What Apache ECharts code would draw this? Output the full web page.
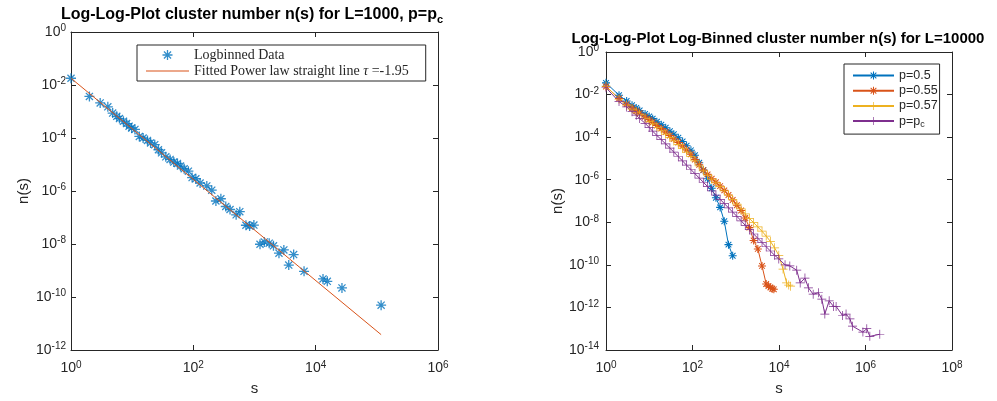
<!DOCTYPE html>
<html><head><meta charset="utf-8">
<script src="https://cdn.jsdelivr.net/npm/echarts@6/dist/echarts.min.js"></script>
<style>html,body{margin:0;padding:0;background:#fff}#c{width:997px;height:401px}</style>
</head><body><div id="c"></div>
<script>
// ---------- Left chart data (L=1000, p=pc) ----------
const leftS = [1,2,3,4,4.8,5.6,6.2,7.2,8.1,8.9,9.8,11.1,13.1,15.1,17.8,20,23.4,26.9,30.2,35.5,41.7,47.9,55,61.7,70.8,83,95.5,110,129,166,200,234,282,339,398,501,575,724,832,977,1230,1445,1738,2042,2512,3020,3631,4365,6457,13183,15488,26915,117490];
const leftN = [1.8e-2,3.7e-3,2.1e-3,1.5e-3,8.7e-4,6.6e-4,5.4e-4,4.3e-4,3.5e-4,2.8e-4,2.4e-4,2.1e-4,1.15e-4,1.0e-4,8.1e-5,6.5e-5,5.6e-5,3.6e-5,2.75e-5,1.95e-5,1.55e-5,1.23e-5,1.1e-5,8.7e-6,6.9e-6,5.6e-6,3.2e-6,2.9e-6,2.0e-6,1.55e-6,1.07e-6,4.2e-7,5.1e-7,2.6e-7,2.0e-7,1.26e-7,1.66e-7,5.1e-8,4.8e-8,5.2e-8,9.8e-9,1.2e-8,1.07e-8,8.5e-9,4.5e-9,6.0e-9,1.6e-9,4.0e-9,9.3e-10,4.8e-10,3.9e-10,2.2e-10,4.9e-11];
const fitS = [1, 117490];
const fitN = [1.8e-2, 3.8e-12];

// ---------- Right chart data (L=10000) ----------
const p05S = [1,2,3,4,5,6,8,10,12,15,19,24,30,37,47,59,73,92,114,143,178,223,278,348,435,543,679,849];
const p05N = [3.55e-2,9.33e-3,5.01e-3,3.16e-3,2.34e-3,1.78e-3,1.23e-3,9.33e-4,7.41e-4,5.25e-4,3.80e-4,2.75e-4,1.91e-4,1.38e-4,9.33e-5,6.31e-5,3.98e-5,2.40e-5,1.41e-5,6.31e-6,2.82e-6,1.12e-6,3.98e-7,1.41e-7,5.01e-8,1.12e-8,8.91e-10,2.69e-10];
const p055S = [1,2,3,4,5,6,8,10,12,15,19,24,30,37,47,59,73,92,114,143,178,223,278,348,435,543,679,849,1060,1330,1660,2070,2590,3240,4050,5060,5700,6300,7000,7600];
const p055N = [2.40e-2,6.61e-3,3.55e-3,2.34e-3,1.70e-3,1.32e-3,8.91e-4,6.61e-4,5.01e-4,3.55e-4,2.51e-4,1.74e-4,1.20e-4,8.32e-5,5.62e-5,3.80e-5,2.51e-5,1.58e-5,8.91e-6,5.01e-6,2.82e-6,1.78e-6,1.12e-6,7.59e-7,5.01e-7,3.16e-7,1.91e-7,1.12e-7,6.31e-8,3.55e-8,1.58e-8,5.62e-9,1.41e-9,5.62e-10,8.91e-11,1.26e-11,1.0e-11,8.71e-12,7.59e-12,7.08e-12];
const p057S = [1,2,3,4,5,6,8,10,12,15,19,24,30,37,47,59,73,92,114,143,178,223,278,348,435,543,679,849,1060,1330,1660,2070,2590,3240,4050,5060,6330,7910,9890,12400,15000,16800,18500];
const p057N = [2.51e-2,6.03e-3,3.16e-3,2.09e-3,1.51e-3,1.15e-3,7.59e-4,5.50e-4,4.17e-4,2.88e-4,2.00e-4,1.38e-4,9.55e-5,6.61e-5,4.47e-5,3.02e-5,2.00e-5,1.26e-5,7.59e-6,4.47e-6,2.63e-6,1.66e-6,1.07e-6,7.08e-7,4.68e-7,3.02e-7,1.91e-7,1.17e-7,7.08e-8,4.27e-8,2.51e-8,1.51e-8,9.55e-9,6.03e-9,3.80e-9,2.24e-9,1.26e-9,6.31e-10,2.82e-10,6.31e-11,1.41e-11,1.12e-11,1.0e-11];
const pcS = [1,2,3,4,5,6,8,10,12,15,19,24,30,37,47,59,73,92,114,143,178,223,278,348,435,543,679,849,1060,1330,1660,2070,2590,3240,4050,5060,6330,7910,9890,13800,17800,25700,30900,39800,47900,61700,81300,97700,114800,144500,182000,209000,295000,355000,437000,501000,871000,1070000,1260000,2140000];
const pcN = [2.09e-2,4.68e-3,2.63e-3,1.58e-3,1.07e-3,7.59e-4,4.47e-4,2.82e-4,1.91e-4,1.20e-4,7.59e-5,4.79e-5,3.02e-5,2.00e-5,1.20e-5,7.59e-6,4.79e-6,3.02e-6,1.91e-6,1.20e-6,7.59e-7,4.79e-7,3.02e-7,1.91e-7,1.20e-7,7.59e-8,4.79e-8,3.02e-8,1.91e-8,1.17e-8,7.24e-9,4.47e-9,2.82e-9,1.78e-9,1.12e-9,7.08e-10,4.47e-10,2.82e-10,1.91e-10,1.0e-10,8.91e-11,5.62e-11,1.41e-11,2.40e-11,8.32e-12,4.17e-12,4.90e-12,2.45e-12,4.90e-13,2.04e-12,1.12e-12,1.12e-12,4.17e-13,4.90e-13,2.88e-13,1.32e-13,6.92e-14,1.0e-13,4.37e-14,5.50e-14];

// ---------- Axis ranges / tick labels (exponents of 10) ----------
const leftXTicks = [0,2,4,6];
const leftYTicks = [-12,-10,-8,-6,-4,-2,0];
const rightXTicks = [0,2,4,6,8];
const rightYTicks = [-14,-12,-10,-8,-6,-4,-2,0];

const seriesNames = ['p=0.5','p=0.55','p=0.57','p=pc'];
const fitName = 'Fitted Power law straight line \u03c4 =-1.95';

const F = '"Liberation Sans", Arial, Helvetica, sans-serif';
const SERIF = '"Liberation Serif", "DejaVu Serif", serif';
const AX = '#262626';
const C = ['#0072BD','#D95319','#EDB120','#7E2F8E'];
const STAR = 'path://M8.7 0h2.6v20h-2.6z M0 8.7h20v2.6h-20z M2 3.8L3.8 2L18 16.2L16.2 18Z M16.2 2L18 3.8L3.8 18L2 16.2Z';
const PLUS = 'path://M9.2 0h1.6v20h-1.6z M0 9.2h20v1.6h-20z';
const HLINE = 'path://M0 0h40v1h-40z';

const pairs = (xs, ys) => xs.map((x, i) => [x, ys[i]]);
const expRich = {
  b: {fontSize: 14, fontFamily: F, color: AX},
  e: {fontSize: 10, fontFamily: F, color: AX, padding: [0, 0, 7, 0]}
};
const fmt = v => '{b|10}{e|' + Math.round(Math.log10(v)) + '}';

function axes(xmin, xmax, ymin, ymax, xLabelMargin, yLabelMargin, xNameGap, yNameGap) {
  const common = {
    type: 'log', logBase: 100,
    axisLine: {show: true, lineStyle: {color: AX, width: 1}},
    axisTick: {show: true, inside: true, length: 5, lineStyle: {color: AX}},
    splitLine: {show: false}, minorTick: {show: false}
  };
  const x = [
    Object.assign({}, common, {min: xmin, max: xmax, position: 'bottom',
      axisLabel: {formatter: fmt, rich: expRich, margin: xLabelMargin},
      name: 's', nameLocation: 'middle', nameGap: xNameGap,
      nameTextStyle: {fontFamily: F, fontSize: 15, color: AX}}),
    Object.assign({}, common, {min: xmin, max: xmax, position: 'top', axisLabel: {show: false}})
  ];
  const y = [
    Object.assign({}, common, {min: ymin, max: ymax, position: 'left',
      axisLabel: {formatter: fmt, rich: expRich, margin: yLabelMargin},
      name: 'n(s)', nameLocation: 'middle', nameGap: yNameGap, nameRotate: 90,
      nameTextStyle: {fontFamily: F, fontSize: 15, color: AX}}),
    Object.assign({}, common, {min: ymin, max: ymax, position: 'right', axisLabel: {show: false}})
  ];
  return {x, y};
}

const a0 = axes(Math.pow(10, leftXTicks[0]), Math.pow(10, leftXTicks[leftXTicks.length-1]),
  Math.pow(10, leftYTicks[0]), Math.pow(10, leftYTicks[leftYTicks.length-1]), 10, 5, 31, 40);
const a1 = axes(Math.pow(10, rightXTicks[0]), Math.pow(10, rightXTicks[rightXTicks.length-1]),
  Math.pow(10, rightYTicks[0]), Math.pow(10, rightYTicks[rightYTicks.length-1]), 10, 7, 31, 40);

const chart = echarts.init(document.getElementById('c'), null, {renderer: 'canvas'});
chart.setOption({
  animation: false,
  backgroundColor: '#fff',
  title: [
    {text: '{t|Log-Log-Plot cluster number n(s) for L=1000, p=p}{s|c}', left: 252, top: 4, padding: 0, textAlign: 'center',
     textStyle: {rich: {t: {fontFamily: F, fontWeight: 'bold', fontSize: 16, color: '#000'},
                        s: {fontFamily: F, fontWeight: 'bold', fontSize: 11, color: '#000', padding: [10, 0, 0, 0]}}}},
    {text: 'Log-Log-Plot Log-Binned cluster number n(s) for L=10000', left: 778, top: 31, padding: 0, textAlign: 'center',
     textStyle: {fontFamily: F, fontWeight: 'bold', fontSize: 15, color: '#000'}}
  ],
  grid: [
    {left: 71, top: 32, width: 367, height: 319},
    {left: 606, top: 52, width: 346, height: 303}
  ],
  xAxis: [a0.x[0], a0.x[1], a1.x[0], a1.x[1]].map((ax, i) => Object.assign(ax, {gridIndex: i < 2 ? 0 : 1})),
  yAxis: [a0.y[0], a0.y[1], a1.y[0], a1.y[1]].map((ax, i) => Object.assign(ax, {gridIndex: i < 2 ? 0 : 1})),
  legend: [
    {data: ['Logbinned Data', {name: fitName, icon: HLINE}], orient: 'vertical', left: 137, top: 45,
     itemWidth: 43, itemHeight: 10, itemGap: 2, padding: [3, 17, 3, 9],
     borderColor: AX, borderWidth: 1, backgroundColor: '#fff',
     formatter: n => n === fitName ? '{n|Fitted Power law straight line }{i|\u03c4}{n| =-1.95}' : '{n|' + n + '}',
     textStyle: {fontFamily: SERIF, fontSize: 14, color: AX,
       rich: {n: {fontFamily: SERIF, fontSize: 14, color: AX}, i: {fontFamily: SERIF, fontSize: 14, fontStyle: 'italic', color: AX}}}},
    {data: seriesNames, orient: 'vertical', left: 844, top: 64,
     itemWidth: 41, itemHeight: 10, itemGap: 2.2, padding: [5, 2, 5, 8],
     borderColor: AX, borderWidth: 1, backgroundColor: '#fff',
     formatter: n => n === 'p=pc' ? '{n|p=p}{s|c}' : '{n|' + n + '}',
     textStyle: {fontFamily: F, fontSize: 12.5, color: AX,
       rich: {n: {fontFamily: F, fontSize: 12.5, color: AX}, s: {fontFamily: F, fontSize: 9, color: AX, padding: [7, 0, 0, 0]}}}}
  ],
  series: [
    {name: 'Logbinned Data', type: 'scatter', xAxisIndex: 0, yAxisIndex: 0,
     data: pairs(leftS, leftN), symbol: STAR, symbolSize: 10, itemStyle: {color: C[0]}},
    {name: fitName, type: 'line', xAxisIndex: 0, yAxisIndex: 0,
     data: pairs(fitS, fitN), symbol: 'none', lineStyle: {color: C[1], width: 1}, itemStyle: {color: C[1]}},
    {name: seriesNames[0], type: 'line', xAxisIndex: 2, yAxisIndex: 2, data: pairs(p05S, p05N),
     symbol: STAR, symbolSize: 8, showAllSymbol: true, lineStyle: {color: C[0], width: 1}, itemStyle: {color: C[0]}},
    {name: seriesNames[1], type: 'line', xAxisIndex: 2, yAxisIndex: 2, data: pairs(p055S, p055N),
     symbol: STAR, symbolSize: 8, showAllSymbol: true, lineStyle: {color: C[1], width: 1}, itemStyle: {color: C[1]}},
    {name: seriesNames[2], type: 'line', xAxisIndex: 2, yAxisIndex: 2, data: pairs(p057S, p057N),
     symbol: PLUS, symbolSize: 9, showAllSymbol: true, lineStyle: {color: C[2], width: 1}, itemStyle: {color: C[2]}},
    {name: seriesNames[3], type: 'line', xAxisIndex: 2, yAxisIndex: 2, data: pairs(pcS, pcN),
     symbol: PLUS, symbolSize: 9, showAllSymbol: true, lineStyle: {color: C[3], width: 1}, itemStyle: {color: C[3]}}
  ]
});
</script>
</body></html>
